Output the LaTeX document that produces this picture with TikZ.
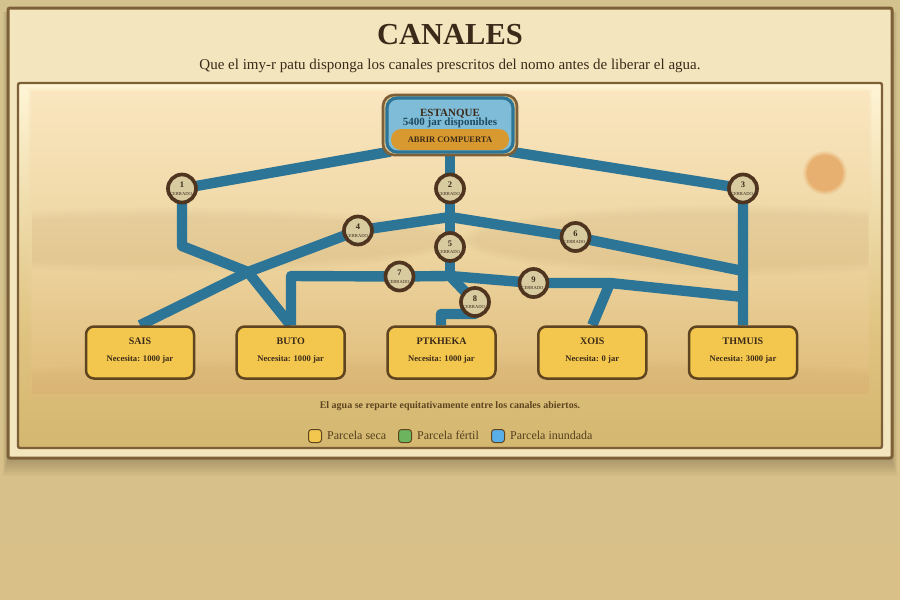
\documentclass[tikz,border=0pt]{standalone}
\usepackage{fontspec}
\setmainfont{Liberation Serif}
\pgfdeclarelayer{bgl}\pgfdeclarelayer{pipel}
\pgfsetlayers{bgl,pipel,main}
\definecolor{pagetop}{HTML}{D3C28E}
\definecolor{pagebot}{HTML}{D8C088}
\definecolor{framefill}{HTML}{F3E5BD}
\definecolor{framedraw}{HTML}{7D5F38}
\definecolor{pipe}{HTML}{2D7596}
\definecolor{ink}{HTML}{3B2A1A}
\definecolor{deepblue}{HTML}{1F4A60}
\definecolor{dryfill}{HTML}{F3C74D}
\definecolor{drydraw}{HTML}{5F4420}
\definecolor{valvefill}{HTML}{D8CBA0}
\definecolor{valvedraw}{HTML}{4F3520}
\definecolor{sun}{HTML}{E8B070}
\definecolor{pondfill}{HTML}{7FBCD8}
\definecolor{gatefill}{HTML}{D89A30}
\definecolor{fertile}{HTML}{6CB45E}
\definecolor{flooded}{HTML}{5AAEE8}
\definecolor{hill}{HTML}{A88A4A}
\definecolor{panela}{HTML}{D4B870}
\definecolor{panelb}{HTML}{DEC27E}
\definecolor{panelc}{HTML}{FFF5D6}
\definecolor{innera}{HTML}{DFBA78}
\definecolor{innerb}{HTML}{EED6A2}
\definecolor{innerc}{HTML}{FAE6C0}
\pgfdeclareverticalshading{panelshade}{100bp}{
 color(0bp)=(panela);
 color(25bp)=(panela);
 color(40bp)=(panelb);
 color(75bp)=(panelc);
 color(100bp)=(panelc)}
\pgfdeclareverticalshading{innershade}{100bp}{
 color(0bp)=(innera);
 color(25bp)=(innera);
 color(50bp)=(innerb);
 color(75bp)=(innerc);
 color(100bp)=(innerc)}
\tikzset{
 pipeline/.style={draw=pipe,line width=10.4pt,line join=round,line cap=butt},
 valve/.style={circle,draw=valvedraw,line width=3.7pt,fill=valvefill,inner sep=0pt,minimum size=28pt,align=center,text=ink},
 parcel/.style={rectangle,rounded corners=8pt,draw=drydraw,line width=2.5pt,fill=dryfill,minimum width=108pt,minimum height=52pt,align=center,text=ink,inner sep=0pt},
 swatch/.style={rectangle,rounded corners=3pt,draw=drydraw,line width=1pt,minimum size=13pt,inner sep=0pt},
 legendtext/.style={anchor=base west,font=\fontsize{12}{12}\selectfont,text=drydraw!90!black,inner sep=0pt}
}
\newcommand{\vlabel}[1]{\parbox{20pt}{\centering\fontsize{8.5}{8.5}\selectfont\textbf{#1}\\[2.5pt]\fontsize{4.6}{5}\selectfont\makebox[0pt]{\kern-2pt CERRADO}}}
\newcommand{\plabel}[2]{{\fontsize{10}{10}\selectfont\textbf{#1}}\\[5.5pt]{\fontsize{8.6}{8.6}\selectfont\textbf{Necesita: #2 jar}}\\[-6pt]{}}
\begin{document}
\begin{tikzpicture}[x=1pt,y=-1pt]
\useasboundingbox (0,0) rectangle (900,600);
\begin{pgfonlayer}{bgl}
\shade[top color=pagetop,bottom color=pagebot] (0,0) rectangle (900,600);
\foreach \i in {1,...,8}{
 \fill[black,opacity=0.022] (8-0.6*\i,12) rectangle (892+0.6*\i,460+2*\i);
}
\draw[draw=framedraw,fill=framefill,line width=3pt,rounded corners=2pt] (8,8) rectangle (892,458);
\draw[draw=framedraw,line width=2.4pt,rounded corners=2pt,shading=panelshade] (18,83) rectangle (882,448);
\foreach \i/\o in {0/0.2,1/0.25,2/0.33,3/0.5,4/1}{
 \begin{scope}
 \clip (28+\i,88+\i) rectangle (872-\i,397-\i);
 \shade[shading=innershade,opacity=\o] (28,88) rectangle (872,397);
 \end{scope}
}
% hills
\begin{scope}
\clip (32,92) rectangle (868,393);
\foreach \k in {0,...,5}{
 \fill[hill,opacity=0.016] (170,240) ellipse [x radius={290-3*\k},y radius={33-2*\k}];
 \fill[hill,opacity=0.016] (730,240) ellipse [x radius={270-3*\k},y radius={36-2*\k}];
 \fill[hill,opacity=0.014] (450,400) ellipse [x radius=600,y radius={44-2*\k}];
}
\end{scope}
\foreach \r/\o in {22/0.15,21/0.2,20/0.3,19/0.4,18/1}{
 \fill[sun,opacity=\o] (825,173) circle (\r);
}
\end{pgfonlayer}
% titles
\node[anchor=base,inner sep=0pt,text=ink,font=\fontsize{30.5}{30.5}\selectfont\bfseries] (title) at (450,44) {CANALES};
\node[anchor=base,inner sep=0pt,text=ink,font=\fontsize{15}{15}\selectfont] (subtitle) at (450,69) {Que el imy-r patu disponga los canales prescritos del nomo antes de liberar el agua.};
% pond
\node[rectangle,rounded corners=11pt,draw=framedraw,line width=2.6pt,fill=hill!40!framefill,minimum width=134pt,minimum height=60pt,inner sep=0pt] (halo) at (450,125) {};
\node[rectangle,rounded corners=10pt,draw=pipe,line width=3.2pt,fill=pondfill,minimum width=126pt,minimum height=54pt,inner sep=0pt] (pond) at (450,125) {};
\node[anchor=base,inner sep=0pt,text=ink,font=\fontsize{11}{11}\selectfont\bfseries] (pondname) at (450,116) {ESTANQUE};
\node[anchor=base,inner sep=0pt,text=deepblue,font=\fontsize{11}{11}\selectfont\bfseries] (pondamount) at (450,125) {5400 jar disponibles};
\node[rectangle,rounded corners=10pt,fill=gatefill,minimum width=118pt,minimum height=21pt,inner sep=0pt,text=ink,font=\fontsize{8.5}{8.5}\selectfont\bfseries] (gate) at (450,139.5) {ABRIR COMPUERTA};
% valves
\node[valve] (v1) at (182,188.5) {\vlabel{1}};
\node[valve] (v2) at (450,188.5) {\vlabel{2}};
\node[valve] (v3) at (743,188.5) {\vlabel{3}};
\node[valve] (v4) at (358,230.5) {\vlabel{4}};
\node[valve] (v5) at (450,247) {\vlabel{5}};
\node[valve] (v6) at (575.5,237) {\vlabel{6}};
\node[valve] (v7) at (399.5,276.5) {\vlabel{7}};
\node[valve] (v8) at (475,302) {\vlabel{8}};
\node[valve] (v9) at (533.5,283) {\vlabel{9}};
% parcels
\node[parcel] (sais) at (140,352.5) {\plabel{SAIS}{1000}};
\node[parcel] (buto) at (290.7,352.5) {\plabel{BUTO}{1000}};
\node[parcel] (ptk) at (441.5,352.5) {\plabel{PTKHEKA}{1000}};
\node[parcel] (xois) at (592.3,352.5) {\plabel{XOIS}{0}};
\node[parcel] (thm) at (743,352.5) {\plabel{THMUIS}{3000}};
% junctions
\coordinate (jc) at (450,217);
\coordinate (jx) at (248,272);
\coordinate (j1) at (182,246);
\coordinate (jm) at (450,276);
\coordinate (j9) at (610,283);
\coordinate (e6) at (743,271);
\coordinate (e9) at (743,297);
\coordinate (k7) at (291,276);
\coordinate (k8) at (441,314);
\coordinate (k8b) at (475,314);
\begin{pgfonlayer}{pipel}
\draw[pipeline] ([shift={(5,-2)}]pond.south west) -- (v1.center) -- (j1) -- (jx) -- (buto.north);
\draw[pipeline] ([shift={(-5,-2)}]pond.south east) -- (v3.center) -- (thm.north);
\draw[pipeline] (pond.south) -- (v2.center) -- (jc) -- (v5.center) -- (jm);
\draw[pipeline] (jc) -- (v4.center) -- (jx) -- (sais.north);
\draw[pipeline] (jc) -- (v6.center) -- (e6);
\draw[pipeline] (jm) -- (v7.center) -- (k7) -- (k7|-buto.north);
\draw[pipeline] (jm) -- (v9.center) -- (j9) -- (e9);
\draw[pipeline] (j9) -- (xois.north);
\draw[pipeline] (jm) -- (v8.center) -- (k8b) -- (k8) -- (ptk.north-|k8);
\end{pgfonlayer}
% note and legend
\node[anchor=base,inner sep=0pt,text=drydraw,font=\fontsize{10}{10}\selectfont\bfseries] (note) at (450,408) {El agua se reparte equitativamente entre los canales abiertos.};
\node[swatch,fill=dryfill] (s1) at (315,436) {};
\node[swatch,fill=fertile] (s2) at (405,436) {};
\node[swatch,fill=flooded] (s3) at (498,436) {};
\node[legendtext] (l1) at (327,439) {Parcela seca};
\node[legendtext] (l2) at (417,439) {Parcela fértil};
\node[legendtext] (l3) at (510,439) {Parcela inundada};
\end{tikzpicture}
\end{document}
